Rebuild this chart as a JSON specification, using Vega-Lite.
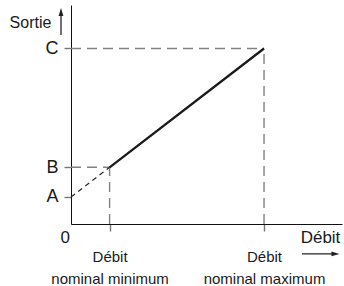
{
  "$schema": "https://vega.github.io/schema/vega-lite/v6.json",
  "width": 271,
  "height": 219,
  "autosize": {"type": "none"},
  "padding": {"left": 71, "top": 5, "right": 2, "bottom": 62},
  "background": "white",
  "config": {"view": {"stroke": null}, "font": "Liberation Sans"},
  "datasets": {
    "courbe": [
      {"debit": 0, "sortie": 1, "segment": "extrapolation"},
      {"debit": 1, "sortie": 2.1, "segment": "extrapolation"},
      {"debit": 1, "sortie": 2.1, "segment": "nominal"},
      {"debit": 5, "sortie": 6.5, "segment": "nominal"}
    ],
    "reperes": [
      {"debit": 1, "sortie": 2.1, "zero": 0},
      {"debit": 5, "sortie": 6.5, "zero": 0}
    ],
    "origine": [{"debit": 0, "sortie": 0, "texte": "0"}],
    "fleches": [
      {"axe": "Sortie", "debit": -0.259, "debit2": -0.259, "sortie": 7.0, "sortie2": 7.78, "pointe_debit": -0.259, "pointe_sortie": 7.85},
      {"axe": "Débit", "debit": 5.98, "debit2": 6.79, "sortie": -1.11, "sortie2": -1.11, "pointe_debit": 6.85, "pointe_sortie": -1.11}
    ]
  },
  "layer": [
    {
      "data": {"name": "reperes"},
      "mark": {"type": "rule", "strokeDash": [10, 6], "color": "#808080", "strokeWidth": 1.4},
      "encoding": {
        "x": {
          "field": "debit", "type": "quantitative",
          "scale": {"domain": [0, 7.02], "nice": false, "zero": false},
          "axis": {
            "values": [1, 5],
            "labelExpr": "datum.value == 1 ? ['Débit', 'nominal minimum'] : ['Débit', 'nominal maximum']",
            "title": "Débit", "titleX": 249, "titleY": 18, "titleAlign": "center", "titleBaseline": "alphabetic",
            "titleFontSize": 17, "titleFontWeight": "normal", "titleColor": "#1a1a1a",
            "domainColor": "#111", "domainWidth": 1,
            "tickColor": "#777", "tickSize": 7, "tickWidth": 1.4,
            "labelFontSize": 15, "labelLineHeight": 22, "labelColor": "#1a1a1a", "labelPadding": 18,
            "labelBaseline": "top", "grid": false, "labelFlush": false, "labelOverlap": false
          }
        },
        "y": {
          "field": "zero", "type": "quantitative",
          "scale": {"domain": [0, 8.11], "nice": false, "zero": false},
          "axis": {
            "values": [1, 2.1, 6.5],
            "labelExpr": "datum.value == 1 ? 'A' : datum.value == 6.5 ? 'C' : 'B'",
            "title": "Sortie", "titleAngle": 0, "titleX": -41, "titleY": 22, "titleAlign": "center", "titleBaseline": "alphabetic",
            "titleFontSize": 16, "titleFontWeight": "normal", "titleColor": "#1a1a1a",
            "domainColor": "#111", "domainWidth": 1,
            "tickColor": "#777", "tickSize": 7, "tickWidth": 1.4,
            "labelFontSize": 18, "labelPadding": 6, "labelColor": "#1a1a1a", "labelBaseline": "middle",
            "grid": false, "labelOverlap": false
          }
        },
        "y2": {"field": "sortie"}
      }
    },
    {
      "data": {"name": "reperes"},
      "mark": {"type": "rule", "strokeDash": [10, 6], "color": "#808080", "strokeWidth": 1.4},
      "encoding": {
        "x": {"field": "zero", "type": "quantitative"},
        "x2": {"field": "debit"},
        "y": {"field": "sortie", "type": "quantitative"}
      }
    },
    {
      "data": {"name": "courbe"},
      "transform": [{"filter": "datum.segment == 'extrapolation'"}],
      "mark": {"type": "line", "strokeDash": [5, 4], "color": "#222", "strokeWidth": 1.1},
      "encoding": {
        "x": {"field": "debit", "type": "quantitative"},
        "y": {"field": "sortie", "type": "quantitative"}
      }
    },
    {
      "data": {"name": "courbe"},
      "transform": [{"filter": "datum.segment == 'nominal'"}],
      "mark": {"type": "line", "color": "#1a1a1a", "strokeWidth": 2.3},
      "encoding": {
        "x": {"field": "debit", "type": "quantitative"},
        "y": {"field": "sortie", "type": "quantitative"}
      }
    },
    {
      "data": {"name": "origine"},
      "mark": {"type": "text", "align": "right", "baseline": "alphabetic", "dx": -1, "dy": 19, "fontSize": 17, "color": "#1a1a1a"},
      "encoding": {
        "x": {"field": "debit", "type": "quantitative"},
        "y": {"field": "sortie", "type": "quantitative"},
        "text": {"field": "texte"}
      }
    },
    {
      "data": {"name": "fleches"},
      "mark": {"type": "rule", "color": "#222", "strokeWidth": 1.3},
      "encoding": {
        "x": {"field": "debit", "type": "quantitative"},
        "x2": {"field": "debit2"},
        "y": {"field": "sortie", "type": "quantitative"},
        "y2": {"field": "sortie2"}
      }
    },
    {
      "data": {"name": "fleches"},
      "mark": {"type": "point", "filled": true, "color": "#222", "size": 64, "opacity": 1, "strokeWidth": 0},
      "encoding": {
        "x": {"field": "pointe_debit", "type": "quantitative"},
        "y": {"field": "pointe_sortie", "type": "quantitative"},
        "shape": {"field": "axe", "type": "nominal", "scale": {"domain": ["Sortie", "Débit"], "range": ["M0,-1L0.6,1L-0.6,1Z", "M1,0L-1,0.6L-1,-0.6Z"]}, "legend": null}
      }
    }
  ]
}
